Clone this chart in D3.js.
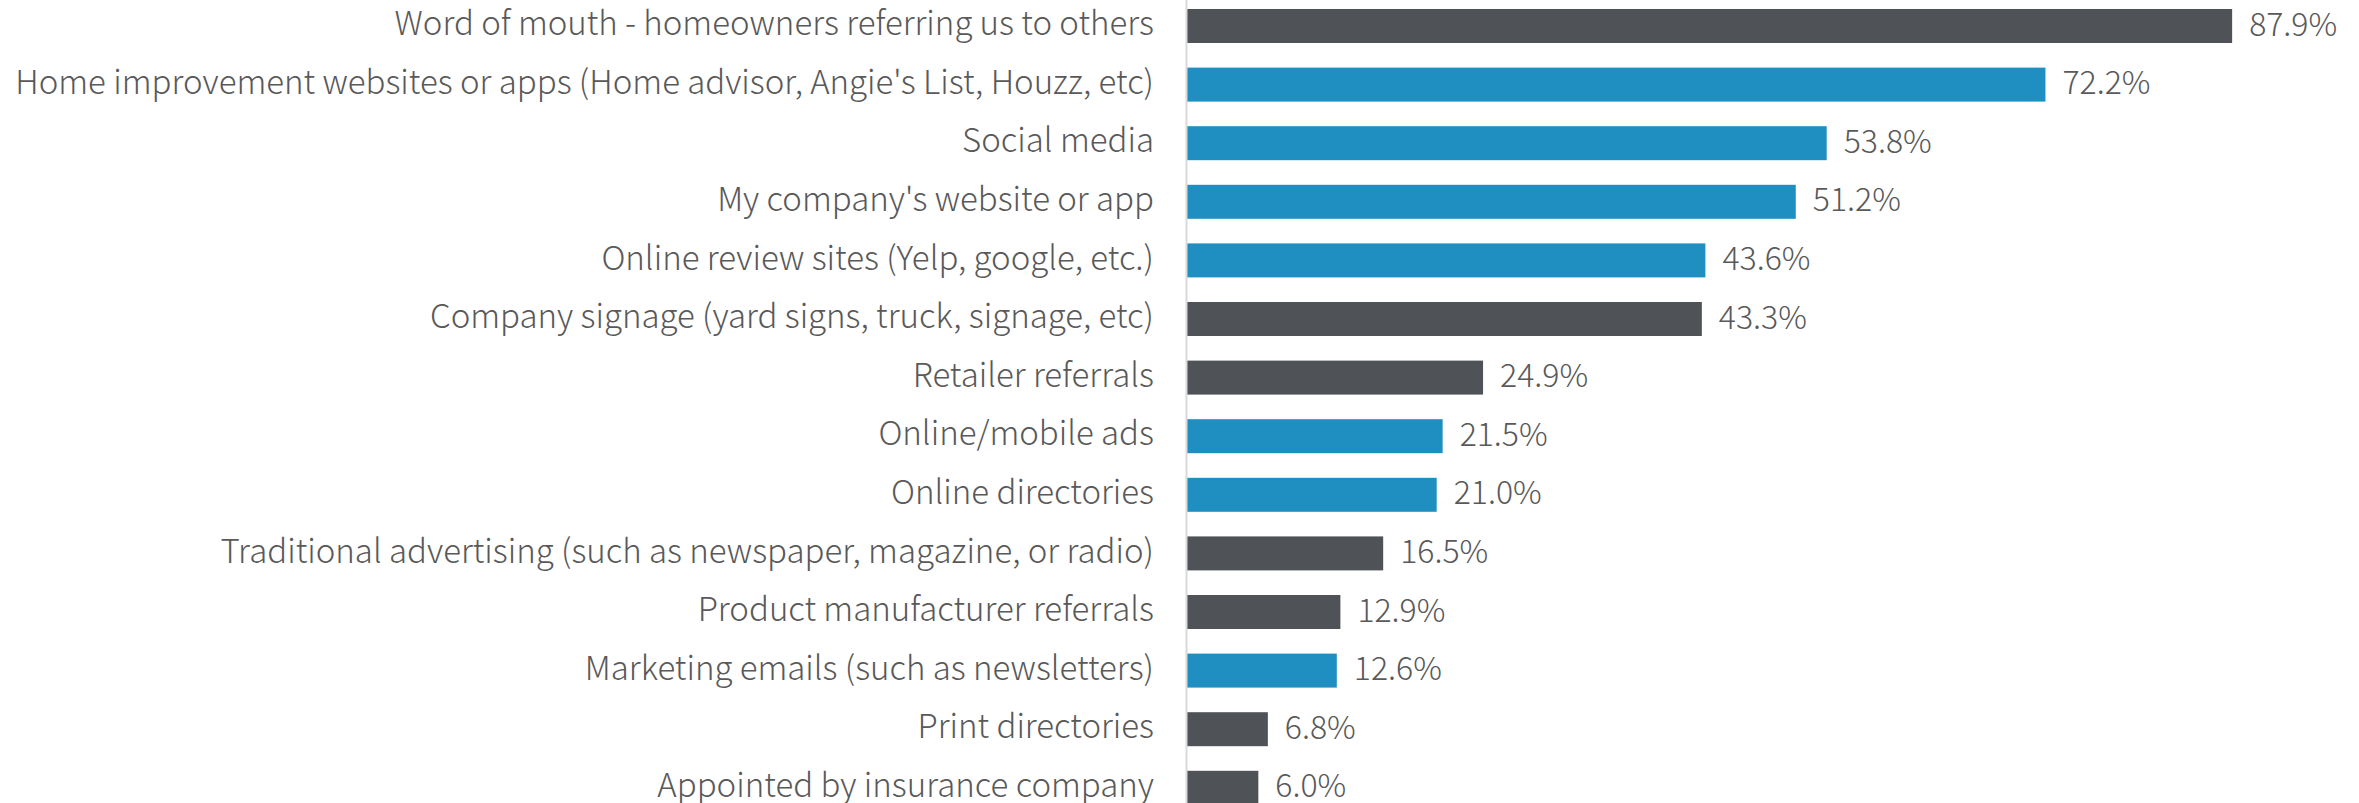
<!DOCTYPE html>
<html>
<head>
<meta charset="utf-8">
<script src="https://cdn.jsdelivr.net/npm/d3@7"></script>
<style>
  html, body { margin: 0; padding: 0; background: #ffffff; }
  svg { display: block; }
  .cat-label, .val-label {
    font-family: "Noto Sans CJK JP", "Noto Sans", sans-serif;
    font-weight: 300;
    fill: #595959;
  }
  .cat-label { font-size: 33px; }
  .val-label { font-size: 32px; }
</style>
</head>
<body>
<svg id="chart"></svg>
<script>
// Lead sources reported by contractors (share of respondents)
const categories = [
  "Word of mouth - homeowners referring us to others",
  "Home improvement websites or apps (Home advisor, Angie's List, Houzz, etc)",
  "Social media",
  "My company's website or app",
  "Online review sites (Yelp, google, etc.)",
  "Company signage (yard signs, truck, signage, etc)",
  "Retailer referrals",
  "Online/mobile ads",
  "Online directories",
  "Traditional advertising (such as newspaper, magazine, or radio)",
  "Product manufacturer referrals",
  "Marketing emails (such as newsletters)",
  "Print directories",
  "Appointed by insurance company"
];
const values = [87.9, 72.2, 53.8, 51.2, 43.6, 43.3, 24.9, 21.5, 21.0, 16.5, 12.9, 12.6, 6.8, 6.0];
// "digital" channels are highlighted, the rest are shown in gray
const channelType = ["other", "digital", "digital", "digital", "digital", "other", "other",
                     "digital", "digital", "other", "other", "digital", "other", "other"];

const width = 2359, height = 803;
const axisX = 1186;

const svg = d3.select("#chart").attr("width", width).attr("height", height);

const x = d3.scaleLinear().domain([0, 100]).range([axisX + 1, axisX + 1 + 1189]);
const y = d3.scaleBand().domain(categories).range([-3.3, 817.1])
  .paddingInner(0.42).paddingOuter(0.21);
const color = d3.scaleOrdinal().domain(["digital", "other"]).range(["#1f8fc2", "#4f5357"]);

const rows = categories.map((c, i) => ({ cat: c, value: values[i], type: channelType[i] }));

// bars
svg.append("g").selectAll("rect").data(rows).join("rect")
  .attr("x", x(0))
  .attr("y", d => y(d.cat))
  .attr("width", d => x(d.value) - x(0))
  .attr("height", y.bandwidth())
  .attr("fill", d => color(d.type));

// category axis
const yAxis = d3.axisLeft(y).tickSize(0).tickSizeOuter(0).tickPadding(32);
const gy = svg.append("g").attr("transform", `translate(${axisX},0)`).call(yAxis);
gy.select(".domain").attr("stroke", "#d9d9d9").attr("stroke-width", 2);
gy.selectAll(".tick text").attr("class", "cat-label").attr("font-size", null)
  .attr("font-family", null).attr("fill", null).attr("dy", "0.28em");
gy.attr("font-size", null).attr("font-family", null);

// value labels
svg.append("g").selectAll("text").data(rows).join("text")
  .attr("class", "val-label")
  .attr("x", d => x(d.value) + 17)
  .attr("y", d => y(d.cat) + y.bandwidth() / 2)
  .attr("dy", "0.3em")
  .text(d => d.value.toFixed(1) + "%");
</script>
</body>
</html>
